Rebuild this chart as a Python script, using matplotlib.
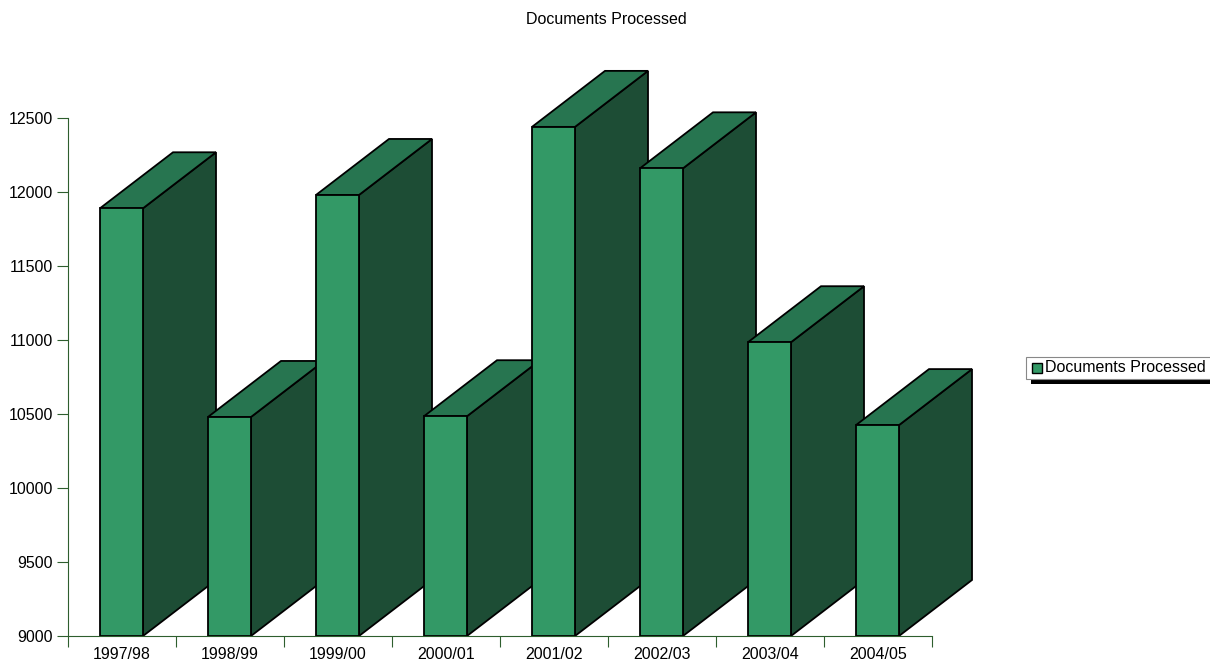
import matplotlib
matplotlib.use("Agg")
import matplotlib.pyplot as plt
from matplotlib.patches import Polygon, Rectangle

plt.rcParams['font.family'] = ['Liberation Sans', 'DejaVu Sans']

years = ['1997/98', '1998/99', '1999/00', '2000/01', '2001/02', '2002/03', '2003/04', '2004/05']
documents = [11890, 10480, 11980, 10485, 12440, 12160, 10985, 10425]
y_ticks = [9000, 9500, 10000, 10500, 11000, 11500, 12000, 12500]

front_col = '#339966'
top_col = '#277550'
side_col = '#1d4d35'
axis_col = '#2e5e2e'
fs = 11.5

W, H = 1210, 666
fig = plt.figure(figsize=(W / 100, H / 100), dpi=100)

# axes placed in pixels: x from 68 to 932, y=9000 at 636, 74 px per 500
px_per_unit = 74 / 500
ymin, ymax = 9000, 13100
ax_h = (ymax - ymin) * px_per_unit
ax = fig.add_axes([68 / W, (H - 636) / H, (932 - 68) / W, ax_h / H])
ax.set_xlim(0, len(years))
ax.set_ylim(ymin, ymax)

# bar geometry in slot units (108 px per slot)
x_off = 32 / 108
bw = 43 / 108
dx = 73 / 108
dy = 56 / px_per_unit

for i, v in enumerate(documents):
    x0 = i + x_off
    x1 = x0 + bw
    z = 3 + i
    side = Polygon([(x1, ymin), (x1 + dx, ymin + dy), (x1 + dx, v + dy), (x1, v)],
                   closed=True, facecolor=side_col, edgecolor='black', lw=1.3,
                   zorder=z, clip_on=False)
    top = Polygon([(x0, v), (x1, v), (x1 + dx, v + dy), (x0 + dx, v + dy)],
                  closed=True, facecolor=top_col, edgecolor='black', lw=1.3,
                  zorder=z, clip_on=False)
    front = Rectangle((x0, ymin), bw, v - ymin, facecolor=front_col,
                      edgecolor='black', lw=1.3, zorder=z, clip_on=False)
    ax.add_patch(side)
    ax.add_patch(top)
    ax.add_patch(front)

# axes styling
for s in ['top', 'right']:
    ax.spines[s].set_visible(False)
ax.spines['left'].set_color(axis_col)
ax.spines['bottom'].set_color(axis_col)
ax.spines['left'].set_bounds(9000, 12500)
ax.spines['left'].set_zorder(20)
ax.spines['bottom'].set_zorder(20)

ax.set_yticks(y_ticks)
ax.set_yticklabels([str(t) for t in y_ticks], fontsize=fs)
ax.tick_params(axis='y', length=8, color=axis_col, pad=3)

ax.set_xticks(range(len(years) + 1))
ax.set_xticklabels([])
ax.tick_params(axis='x', which='major', direction='out', length=8, color=axis_col)
ax.set_xticks([i + 0.5 for i in range(len(years))], minor=True)
ax.set_xticklabels(years, minor=True, fontsize=fs)
ax.tick_params(axis='x', which='minor', length=0, pad=8)

fig.text(606 / W, 1 - 20 / H, 'Documents Processed', ha='center', va='center', fontsize=fs)

# legend with black drop shadow
lx, ly, lw_, lh = 1026, 357, 200, 22
fig.patches.append(Rectangle(((lx + 5) / W, (H - ly - lh - 5) / H), lw_ / W, lh / H,
                             transform=fig.transFigure, facecolor='black', edgecolor='none'))
fig.patches.append(Rectangle((lx / W, (H - ly - lh) / H), lw_ / W, lh / H,
                             transform=fig.transFigure, facecolor='white',
                             edgecolor='#888888', lw=0.8))
fig.patches.append(Rectangle((1032 / W, (H - 373) / H), 10 / W, 10 / H,
                             transform=fig.transFigure, facecolor=front_col,
                             edgecolor='black', lw=1.0))
fig.text(1045 / W, 1 - 368 / H, 'Documents Processed', ha='left', va='center', fontsize=fs)

fig.savefig('out.png', dpi=100)
